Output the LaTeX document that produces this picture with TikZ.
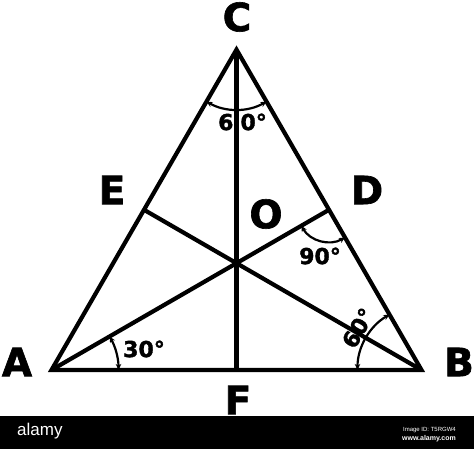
\documentclass[tikz,border=0pt]{standalone}
\usepackage{fontspec}
\setmainfont{DejaVu Sans}
\newfontfamily\heavyfont[BoldFeatures={FakeBold=1.6}]{DejaVu Sans}
\newfontfamily\markfont{Liberation Sans}
\usepackage{tikz}
\usetikzlibrary{arrows.meta,calc}

\begin{document}
\begin{tikzpicture}[x=1pt, y=1pt,
    side/.style={line width=4.2pt},
    anglemark/.style={line width=2.2pt, {Stealth[length=6pt,width=5.5pt]}-{Stealth[length=6pt,width=5.5pt]}},
    vertexlabel/.style={font=\heavyfont\fontsize{39}{39}\selectfont\bfseries, inner sep=0pt},
    anglelabel/.style={font=\heavyfont\fontsize{22}{22}\selectfont\bfseries, inner sep=0pt}]
    \useasboundingbox (0,0) rectangle (474,449);

    % corners of the triangle, feet of the medians and the centre
    \coordinate (A) at (51.5,79);
    \coordinate (B) at (421.5,79);
    \coordinate (C) at (236.5,399.4);
    \coordinate (D) at ($(B)!0.5!(C)$);
    \coordinate (E) at ($(A)!0.5!(C)$);
    \coordinate (F) at ($(A)!0.5!(B)$);
    \coordinate (O) at (236.5,185.8);

    \draw[side] (A) -- (B) -- (C) -- cycle;
    \draw[side] (C) -- (F);
    \draw[side] (A) -- (D);
    \draw[side] (B) -- (E);

    % angle marks
    \draw[anglemark] ([shift={(240:60pt)}]C) arc[start angle=240, end angle=300, radius=60pt];
    \draw[anglemark] ([shift={(0:67pt)}]A) arc[start angle=0, end angle=30, radius=67pt];
    \draw[anglemark] ([shift={(120:64pt)}]B) arc[start angle=120, end angle=180, radius=64pt];
    \draw[anglemark] ([shift={(210:32pt)}]D) arc[start angle=210, end angle=300, radius=32pt];

    \node[anglelabel] (angC) at (242.5,327) {6\hspace{7pt}0°};
    \node[anglelabel] (angA) at (144,100) {30°};
    \node[anglelabel, rotate=60] (angB) at (358,121) {60°};
    \node[anglelabel] (angD) at (320,193) {90°};

    % letters
    \node[vertexlabel] (labC) at (237,432) {C};
    \node[vertexlabel] (labA) at (17,87) {A};
    \node[vertexlabel] (labB) at (459,87) {B};
    \node[vertexlabel] (labE) at (112,259) {E};
    \node[vertexlabel] (labD) at (367,259) {D};
    \node[vertexlabel] (labO) at (266,235) {O};
    \node[vertexlabel] (labF) at (238,49) {F};

    % stock photo strip
    \fill[black] (0,0) rectangle (474,33);
    \node[white, font=\markfont\fontsize{17}{17}\selectfont, anchor=west, inner sep=0pt] (brand) at (17,18) {alamy};
    \node[white, font=\markfont\fontsize{6}{6}\selectfont, anchor=east, inner sep=0pt] (imgid) at (456,19) {Image ID: T5RGW4};
    \node[white, font=\markfont\bfseries\fontsize{7}{7}\selectfont, anchor=east, inner sep=0pt] (site) at (456,10) {www.alamy.com};
\end{tikzpicture}
\end{document}
